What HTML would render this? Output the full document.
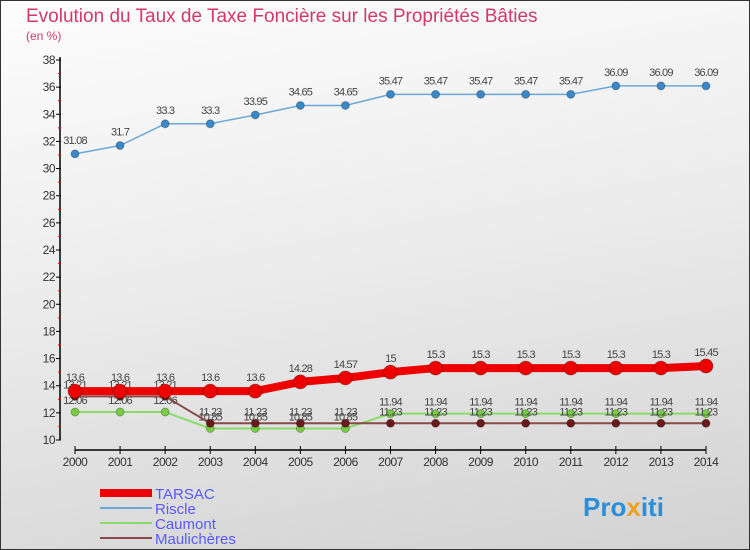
<!DOCTYPE html>
<html><head><meta charset="utf-8"><style>
body{margin:0;width:750px;height:550px;overflow:hidden;font-family:"Liberation Sans",sans-serif}
#c{position:absolute;left:0;top:0;width:748px;height:548px;border:1px solid #333;background:linear-gradient(170deg,#fdfdfd 0%,#eaeaea 50%,#d2d2d2 100%)}
</style></head><body>
<div id="c">
<svg id="s" width="750" height="550" xmlns="http://www.w3.org/2000/svg" style="position:absolute;left:-1px;top:-1px">
<text x="26" y="22" font-size="19" fill="#d2386e">Evolution du Taux de Taxe Foncière sur les Propriétés Bâties</text>
<text x="26" y="40" font-size="12" fill="#d2386e">(en %)</text>
<g id="axes"></g><g id="series"></g>
<g>
<line x1="100" y1="493" x2="152" y2="493" stroke="#e00" stroke-width="8"/>
<text x="155" y="499" font-size="15" fill="#5a5aff">TARSAC</text>
<line x1="100" y1="508" x2="152" y2="508" stroke="#6aa8d8" stroke-width="2"/>
<text x="155" y="514" font-size="15" fill="#5a5aff">Riscle</text>
<line x1="100" y1="523" x2="152" y2="523" stroke="#88dd66" stroke-width="2"/>
<text x="155" y="529" font-size="15" fill="#5a5aff">Caumont</text>
<line x1="100" y1="538" x2="152" y2="538" stroke="#8a4a4a" stroke-width="2"/>
<text x="155" y="544" font-size="15" fill="#5a5aff">Maulichères</text>
</g>
<text x="583" y="516" font-size="26" font-weight="bold" fill="#2a8fd8">Pro<tspan fill="#f0a020">x</tspan>iti</text>
</svg></div>
<script>
const years=[2000,2001,2002,2003,2004,2005,2006,2007,2008,2009,2010,2011,2012,2013,2014];
const tarsac=[13.6,13.6,13.6,13.6,13.6,14.28,14.57,15,15.3,15.3,15.3,15.3,15.3,15.3,15.45];
const riscle=[31.08,31.7,33.3,33.3,33.95,34.65,34.65,35.47,35.47,35.47,35.47,35.47,36.09,36.09,36.09];
const caumont=[12.06,12.06,12.06,10.85,10.85,10.85,10.85,11.94,11.94,11.94,11.94,11.94,11.94,11.94,11.94];
const maulicheres=[13.21,13.21,13.21,11.23,11.23,11.23,11.23,11.23,11.23,11.23,11.23,11.23,11.23,11.23,11.23];
const yTicks=[10,12,14,16,18,20,22,24,26,28,30,32,34,36,38];
const NS="http://www.w3.org/2000/svg";
const x=i=>75+i*(631/14);
const y=v=>440-(v-10)*(380/28);
function mk(t,a,p){const e=document.createElementNS(NS,t);for(const k in a)e.setAttribute(k,a[k]);p.appendChild(e);return e;}
const ax=document.getElementById('axes'),se=document.getElementById('series');
let l=mk('line',{x1:60,y1:y(38)-3,x2:60,y2:y(10),stroke:'#000','stroke-width':1.5},ax);


yTicks.forEach(v=>{
 let t=mk('line',{x1:56,y1:y(v),x2:61,y2:y(v),stroke:'#000'},ax);
 
 
 if(v<38){let m=mk('line',{x1:58,y1:y(v+1),x2:61,y2:y(v+1),stroke:'#e00'},ax);
 
 }
 let tx=mk('text',{x:55,y:y(v)+4,'text-anchor':'end','font-size':12,fill:'#333','letter-spacing':'-0.5'},ax);tx.textContent=v;
 
 
});
l=mk('line',{x1:x(0),y1:450,x2:x(14),y2:450,stroke:'#000','stroke-width':1.5},ax);


years.forEach((yr,i)=>{
 let t=mk('line',{x1:x(i),y1:446,x2:x(i),y2:454,stroke:'#000'},ax);
 
 
 let tx=mk('text',{x:x(i),y:466,'text-anchor':'middle','font-size':12,fill:'#333','letter-spacing':'-0.5'},ax);tx.textContent=yr;
 
 
});
function series(name,data,color,w,r,dot,labOff){
 const g=mk('g',{},se);
 
 
 let p=mk('polyline',{points:data.map((v,i)=>x(i)+','+y(v)).join(' '),fill:'none',stroke:color,'stroke-width':w,'stroke-linejoin':'round'},g);
 
 
 data.forEach((v,i)=>{
  let c=mk('circle',{cx:x(i),cy:y(v),r:r,fill:dot,stroke:'rgba(0,0,0,0.25)'},g);
  
  
  let t=mk('text',{x:x(i),y:y(v)+labOff,'text-anchor':'middle','font-size':11,fill:'#444','letter-spacing':'-0.8'},g);t.textContent=v;
  
  
 });
}
series('caumont',caumont,'#88dd66',2,4,'#77cc44',-8);
series('maulicheres',maulicheres,'#8a4a4a',2,4,'#6a1a1a',-8);
series('tarsac',tarsac,'#e00',8,7,'#e00',-10);
series('riscle',riscle,'#6aa8d8',1.5,4,'#3a88c8',-10);
</script>
</body></html>
